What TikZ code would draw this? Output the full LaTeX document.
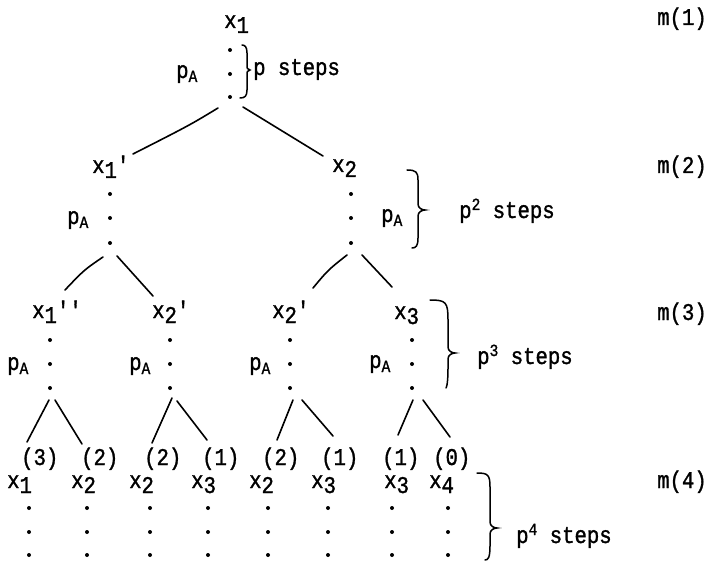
\documentclass[tikz,border=0pt]{standalone}
\usepackage{fontspec}
\setmonofont[FakeStretch=0.86,FakeBold=1.3]{Liberation Mono}
\newcommand{\tfont}{\ttfamily\fontsize{24}{24}\selectfont}
% lowered index digit, small lowered index letter, small raised power
\newcommand{\idx}[1]{\raisebox{-5pt}{#1}}
\newcommand{\idA}{\raisebox{-4pt}{\fontsize{17}{17}\selectfont A}}
\newcommand{\pw}[1]{\raisebox{8pt}{\fontsize{17}{17}\selectfont #1}}
% hand-drawn right brace: top x,y / spine x / tip x,y / bottom x,y / hook length
\newcommand{\stepbrace}[8]{%
  \draw[brc] (#1,#2) .. controls ({#3-2},#2) and (#3,{#2+2}) .. (#3,{#2+#8})
    -- (#3,{#5-6}) .. controls (#3,{#5-2}) and ({#4-3},#5) .. (#4,#5)
    .. controls ({#4-3},#5) and (#3,{#5+2}) .. (#3,{#5+6})
    -- (#3,{#7-#8}) .. controls (#3,{#7-2}) and ({#3-2},#7) .. (#6,#7);}
\begin{document}
\begin{tikzpicture}[x=1pt,y=-1pt,
  lbl/.style={anchor=base west, inner sep=0pt, font=\tfont},
  dot/.style={circle, fill, inner sep=0pt, minimum size=4pt},
  branch/.style={line width=1.6pt, line cap=round},
  brc/.style={line width=1.5pt, line cap=round}]
\useasboundingbox (0,0) rectangle (706,561);

% ---- level 1 ----
\node[lbl] (t1) at (224,28) {x\idx{1}};
\node[dot] (d1a) at (230,50) {};
\node[dot] (d1b) at (230,74) {};
\node[dot] (d1c) at (230,97) {};
\node[lbl] (pa1) at (176,78) {p\idA};
\node[lbl] (ps1) at (253,75) {p steps};
\node[lbl] (m1) at (657,25) {m(1)};
\stepbrace{242}{45}{247}{250}{70}{240}{98}{8}

% ---- level 2 ----
\node[lbl] (n21) at (92,173) {x\idx{1}'};
\node[lbl] (n22) at (332,172) {x\idx{2}};
\node[lbl] (m2) at (657,173) {m(2)};
\foreach \yy/\k in {194/a,218/b,243/c} {
  \node[dot] (d21\k) at (110,\yy) {};
  \node[dot] (d22\k) at (351,\yy) {};
}
\node[lbl] (pa21) at (67,224) {p\idA};
\node[lbl] (pa22) at (381,222) {p\idA};
\node[lbl] (ps2) at (459,218) {p\pw{2} steps};
\stepbrace{407}{170}{418}{425}{210}{412}{248}{10}

% ---- level 3 ----
\node[lbl] (n31) at (32,318) {x\idx{1}''};
\node[lbl] (n32) at (152,318) {x\idx{2}'};
\node[lbl] (n33) at (272,318) {x\idx{2}'};
\node[lbl] (n34) at (394,319) {x\idx{3}};
\node[lbl] (m3) at (657,320) {m(3)};
\foreach \xx/\c in {50/1,170/2,290/3,412/4} {
  \foreach \yy/\k in {340/a,364/b,388/c} {
    \node[dot] (d3\c\k) at (\xx,\yy) {};
  }
}
\node[lbl] (pa31) at (7,370) {p\idA};
\node[lbl] (pa32) at (129,370) {p\idA};
\node[lbl] (pa33) at (249,370) {p\idA};
\node[lbl] (pa34) at (369,368) {p\idA};
\node[lbl] (ps3) at (477,364) {p\pw{3} steps};
\stepbrace{430}{300}{448}{455}{353}{446}{388}{20}

% ---- level 4 ----
\foreach \xx/\t/\c in {21/3/1,81/2/2,144/2/3,202/1/4,262/2/5,321/1/6,382/1/7,433/0/8} {
  \node[lbl] (c4\c) at (\xx,465) {(\t)};
}
\foreach \xx/\t/\c in {7/1/1,71/2/2,129/2/3,191/3/4,249/2/5,311/3/6,384/3/7,429/4/8} {
  \node[lbl] (n4\c) at (\xx,488) {x\idx{\t}};
}
\foreach \xx/\c in {29/1,87/2,150/3,208/4,268/5,328/6,392/7,448/8} {
  \foreach \yy/\k in {508/a,532/b,555/c} {
    \node[dot] (d4\c\k) at (\xx,\yy) {};
  }
}
\node[lbl] (m4) at (657,488) {m(4)};
\node[lbl] (ps4) at (516,543) {p\pw{4} steps};
\stepbrace{477}{473}{490}{497}{528}{485}{560}{14}

% ---- branches ----
\coordinate (b1l) at (218,108); \coordinate (b1le) at (133,154);
\coordinate (b1r) at (243,107); \coordinate (b1re) at (323,156);
\draw[branch] (b1l) .. controls (190,125) .. (b1le);
\draw[branch] (b1r) -- (b1re);

\coordinate (b2al) at (103,257); \coordinate (b2ale) at (65,290);
\coordinate (b2ar) at (117,256); \coordinate (b2are) at (153,296);
\coordinate (b2bl) at (347,255); \coordinate (b2ble) at (313,288);
\coordinate (b2br) at (362,255); \coordinate (b2bre) at (392,287);
\draw[branch] (b2al) .. controls (84,270) .. (b2ale);
\draw[branch] (b2ar) -- (b2are);
\draw[branch] (b2bl) .. controls (328,270) .. (b2ble);
\draw[branch] (b2br) -- (b2bre);

\foreach \a/\b/\c/\d/\e/\f/\g/\h/\n in {
  49/400/27/442/55/400/82/444/1,
  172/398/152/443/177/401/207/440/2,
  293/400/277/440/302/400/333/436/3,
  413/400/398/435/423/400/450/437/4} {
  \coordinate (b3l\n) at (\a,\b); \coordinate (b3le\n) at (\c,\d);
  \coordinate (b3r\n) at (\e,\f); \coordinate (b3re\n) at (\g,\h);
  \draw[branch] (b3l\n) -- (b3le\n);
  \draw[branch] (b3r\n) -- (b3re\n);
}
\end{tikzpicture}
\end{document}
